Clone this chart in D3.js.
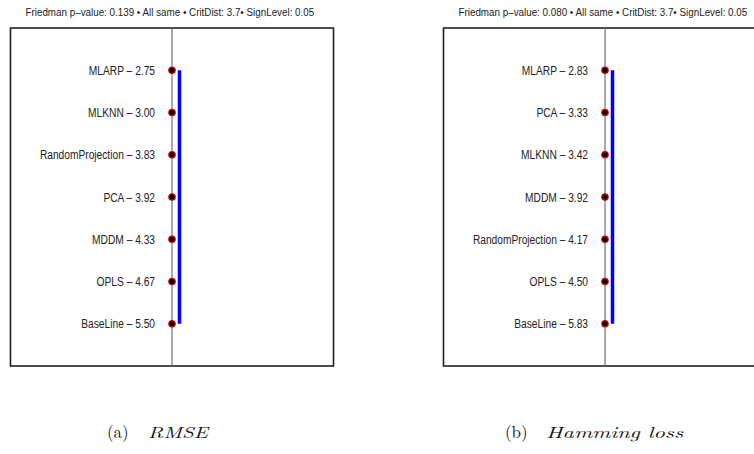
<!DOCTYPE html>
<html>
<head>
<meta charset="utf-8">
<script src="https://cdn.jsdelivr.net/npm/d3@7"></script>
<style>
  html, body { margin: 0; padding: 0; background: #fff; }
  svg { display: block; }
</style>
</head>
<body>
<svg id="chart" width="754" height="454"></svg>
<script>
// Average ranks per method, ordered best to worst
const rmseMethods = ["MLARP", "MLKNN", "RandomProjection", "PCA", "MDDM", "OPLS", "BaseLine"];
const rmseRanks = [2.75, 3.00, 3.83, 3.92, 4.33, 4.67, 5.50];
const hammingMethods = ["MLARP", "PCA", "MLKNN", "MDDM", "RandomProjection", "OPLS", "BaseLine"];
const hammingRanks = [2.83, 3.33, 3.42, 3.92, 4.17, 4.50, 5.83];

const panelTitles = [
  "Friedman p\u2013value: 0.139 \u2022 All same \u2022 CritDist: 3.7\u2022 SignLevel: 0.05",
  "Friedman p\u2013value: 0.080 \u2022 All same \u2022 CritDist: 3.7\u2022 SignLevel: 0.05"
];
const captionTags = ["(a)", "(b)"];
const captionNames = ["RMSE", "Hamming loss"];

const panels = [
  { methods: rmseMethods, ranks: rmseRanks },
  { methods: hammingMethods, ranks: hammingRanks }
];

const svg = d3.select("#chart");
const boxW = 323, boxTop = 28, boxBottom = 366;
const boxLefts = [10.5, 443.5];
const axisOffset = 161.5;
const sansFont = "'Liberation Sans', Arial, sans-serif";
const narrow = 0.85; // condensed look of the label font

// Squeeze a text horizontally to a fraction of its natural width
function condense(sel, factor) {
  sel.each(function () {
    const w = this.getComputedTextLength();
    d3.select(this).attr("textLength", w * factor).attr("lengthAdjust", "spacingAndGlyphs");
  });
}

panels.forEach((p, i) => {
  const x0 = boxLefts[i];
  const g = svg.append("g");

  // Single column: every method sits on the same vertical axis, one row per method
  const y = d3.scalePoint().domain(p.methods).range([boxTop, boxBottom]).padding(1);
  const xAxis = x0 + axisOffset;

  // Title, horizontally condensed to a fixed width
  const tg = g.append("g");
  const title = tg.append("text")
    .attr("x", 0)
    .attr("y", 0)
    .attr("font-family", sansFont)
    .attr("font-size", 11.5)
    .attr("fill", "#222")
    .text(panelTitles[i]);
  const sx = 289 / title.node().getComputedTextLength();
  tg.attr("transform", `translate(${x0 + 15},16) scale(${sx},1)`);

  // Frame
  g.append("rect")
    .attr("x", x0).attr("y", boxTop)
    .attr("width", boxW).attr("height", boxBottom - boxTop)
    .attr("fill", "none").attr("stroke", "#222").attr("stroke-width", 1.6);

  // Vertical rank axis
  g.append("line")
    .attr("x1", xAxis).attr("x2", xAxis)
    .attr("y1", boxTop).attr("y2", boxBottom)
    .attr("stroke", "#555").attr("stroke-width", 1);

  // Group bar: no significant difference among all methods
  g.append("line")
    .attr("x1", xAxis + 7.5).attr("x2", xAxis + 7.5)
    .attr("y1", y(p.methods[0])).attr("y2", y(p.methods[p.methods.length - 1]))
    .attr("stroke", "#0000ff").attr("stroke-width", 3.5);

  // Method labels
  g.selectAll("text.lbl")
    .data(p.methods)
    .join("text")
    .attr("class", "lbl")
    .attr("x", xAxis - 17)
    .attr("y", d => y(d))
    .attr("dy", "0.36em")
    .attr("text-anchor", "end")
    .attr("font-family", sansFont)
    .attr("font-size", 12.5)
    .attr("fill", "#222")
    .text((d, j) => `${d} \u2013 ${p.ranks[j].toFixed(2)}`)
    .call(condense, narrow * 12 / 12.5);

  // Points
  g.selectAll("circle")
    .data(p.methods)
    .join("circle")
    .attr("cx", xAxis)
    .attr("cy", d => y(d))
    .attr("r", 3.2)
    .attr("fill", "#000")
    .attr("stroke", "#e00000")
    .attr("stroke-width", 1.2);
});

// Sub-figure captions
const captionX = [107, 505];
const nameWidths = [60, 137];
const serif = "'Latin Modern Roman', 'DejaVu Serif', 'Liberation Serif', serif";
captionX.forEach((cx, i) => {
  svg.append("text")
    .attr("x", cx).attr("y", 438)
    .attr("font-family", serif)
    .attr("font-size", 17)
    .attr("fill", "#111")
    .text(captionTags[i]);
  svg.append("text")
    .attr("x", cx + 41).attr("y", 438)
    .attr("font-family", serif)
    .attr("font-style", "italic")
    .attr("font-size", 16)
    .attr("fill", "#111")
    .attr("textLength", nameWidths[i])
    .attr("lengthAdjust", "spacingAndGlyphs")
    .text(captionNames[i]);
});
</script>
</body>
</html>
